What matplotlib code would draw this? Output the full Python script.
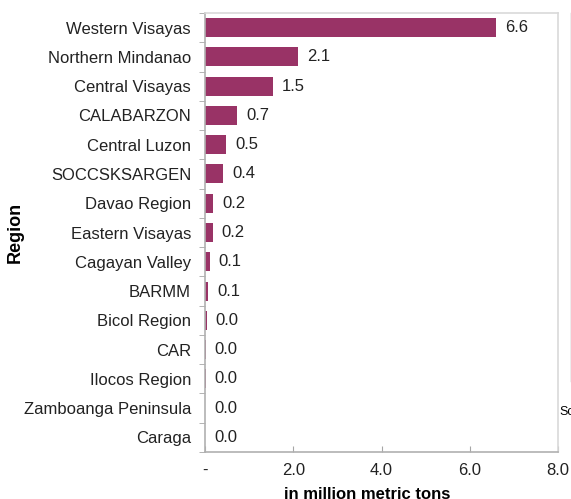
import numpy as np
import matplotlib
matplotlib.use("Agg")
import matplotlib.pyplot as plt
from matplotlib.lines import Line2D

# Datos (millones de toneladas métricas)
regions = ["Western Visayas", "Northern Mindanao", "Central Visayas", "CALABARZON",
           "Central Luzon", "SOCCSKSARGEN", "Davao Region", "Eastern Visayas",
           "Cagayan Valley", "BARMM", "Bicol Region", "CAR", "Ilocos Region",
           "Zamboanga Peninsula", "Caraga"]
production = [6.6, 2.11, 1.54, 0.73, 0.48, 0.41, 0.19, 0.18,
              0.11, 0.07, 0.04, 0.02, 0.015, 0.003, 0.002]
xticks = [0, 2, 4, 6, 8]
xtick_labels = ["-", "2.0", "4.0", "6.0", "8.0"]

plt.rcParams['font.family'] = ['Liberation Sans', 'DejaVu Sans']

fig = plt.figure(figsize=(5.71, 4.99), dpi=100)
ax = fig.add_axes([205/571, 1 - 452/499, (558-205)/571, (452-13)/499])

y = np.arange(len(regions))
ax.barh(y, production, height=0.65, color='#993366')
for yi, v in zip(y, production):
    ax.text(v + 0.2, yi, f"{v:.1f}", va='center', ha='left', fontsize=12, color='#222222')

ax.set_ylim(len(regions) - 0.5, -0.5)
ax.set_xlim(0, 8)
ax.set_yticks(y)
ax.set_yticklabels(regions, fontsize=12, color='#222222')
ax.set_yticks(np.arange(len(regions) + 1) - 0.5, minor=True)
ax.tick_params(axis='y', which='major', length=0, pad=10)
ax.tick_params(axis='y', which='minor', length=4, color='#a6a6a6', direction='out')
ax.set_xticks(xticks)
ax.set_xticklabels(xtick_labels, fontsize=12, color='#222222')
ax.tick_params(axis='x', length=4, color='#a6a6a6', direction='in', pad=8)

for side in ['top', 'right']:
    ax.spines[side].set_color('#d9d9d9')
for side in ['left', 'bottom']:
    ax.spines[side].set_color('#b0b0b0')
for s in ax.spines.values():
    s.set_linewidth(1.2)

ax.set_ylabel("Region", fontsize=13, fontweight='bold')
ax.yaxis.set_label_coords(-(205 - 24) / (558 - 205), 0.5)
ax.set_xlabel("in million metric tons", fontsize=12, fontweight='bold')
ax.xaxis.set_label_coords((367 - 205) / (558 - 205), -(487 - 452) / (452 - 13))

# borde del panel vecino recortado
fig.add_artist(Line2D([570.5/571, 570.5/571], [1 - 13/499, 1 - 381/499],
                      color='#a6a6a6', linewidth=1.0))
fig.text(559/571, 1 - 412/499, "So", fontsize=9, va='center', ha='left')

fig.savefig("out.png", dpi=100)
